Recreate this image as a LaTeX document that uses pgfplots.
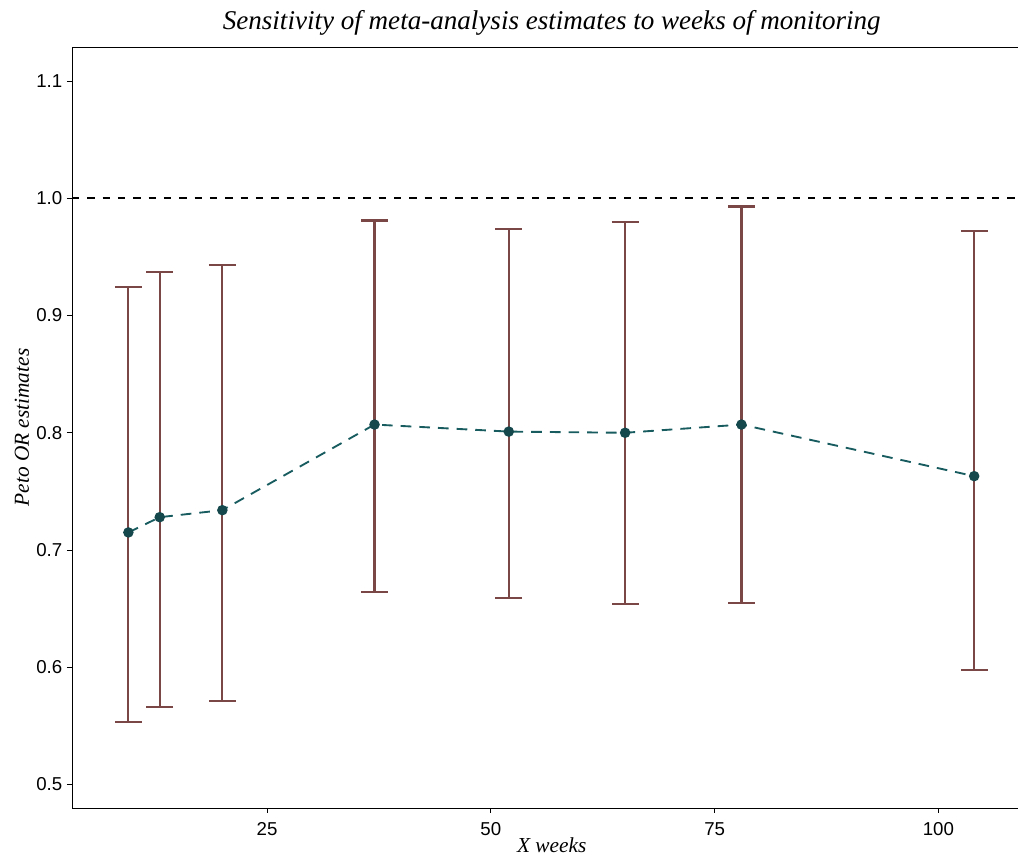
\documentclass[border=0pt]{standalone}
\usepackage{pgfplots}
\pgfplotsset{compat=1.18}
\usepackage{pgfplotstable}
\usepackage{fontspec}
\setmainfont{Liberation Serif}
\setsansfont{Liberation Sans}
\definecolor{errc}{RGB}{122,70,70}
\definecolor{linec}{RGB}{24,92,96}
\definecolor{ptc}{RGB}{20,72,76}

\pgfplotstableread{
x y lo hi
9.5 0.715 0.553 0.924
13 0.728 0.566 0.937
20 0.734 0.571 0.943
37 0.807 0.664 0.981
52 0.801 0.659 0.974
65 0.800 0.654 0.980
78 0.807 0.655 0.993
104 0.763 0.598 0.972
}\data

\begin{document}
\begin{tikzpicture}
\begin{axis}[
  at={(0,0)}, anchor=south west,
  scale only axis, width=719.6pt, height=570.75pt,
  xmin=3.2, xmax=110.4, ymin=0.48, ymax=1.129,
  xtick={25,50,75,100},
  ytick={0.5,0.6,0.7,0.8,0.9,1.0,1.1},
  yticklabel style={/pgf/number format/.cd, fixed, fixed zerofill, precision=1},
  xticklabel style={yshift=-3.5pt},
  /pgf/number format/assume math mode=true,
  ticklabel style={font=\fontsize{14}{16}\selectfont\sffamily, text=black},
  tick align=outside, major tick length=3.75pt,
  tick style={line width=0.6pt, black},
  xtick pos=bottom, ytick pos=left,
  axis line style={line width=0.6pt},
  clip=false,
]
\addplot[black, line width=1.3pt, dash pattern=on 5.5pt off 6pt] coordinates {(3.2,1) (110.4,1)};
\addplot[draw=none, mark=none,
  error bars/.cd, y dir=both, y explicit,
  error bar style={draw=errc, line width=1.6pt, solid},
  error mark=-,
  error mark options={draw=errc, line width=1.6pt, mark size=10.05pt, solid, rotate=90}]
  table[x=x, y=y, y error plus expr=\thisrow{hi}-\thisrow{y}, y error minus expr=\thisrow{y}-\thisrow{lo}] {\data};
\addplot[linec, line width=1.4pt, dash pattern=on 8pt off 6pt, mark=*, mark size=3.2pt,
  mark options={solid, fill=ptc, draw=ptc}] table[x=x, y=y] {\data};
\node[font=\fontsize{20.3}{24}\selectfont\itshape] at ([yshift=18pt]{rel axis cs:0.5,1}) {Sensitivity of meta-analysis estimates to weeks of monitoring};
\node[font=\fontsize{16}{19}\selectfont\itshape] at ([yshift=-27.75pt]{rel axis cs:0.5,0}) {X weeks};
\node[font=\fontsize{16}{19}\selectfont\itshape, rotate=90] at ([xshift=-37.5pt]{rel axis cs:0,0.5}) {Peto OR estimates};
\end{axis}
\pgfresetboundingbox
\path (-54pt,-36pt) rectangle (709.5pt,606pt);
\end{tikzpicture}
\end{document}
